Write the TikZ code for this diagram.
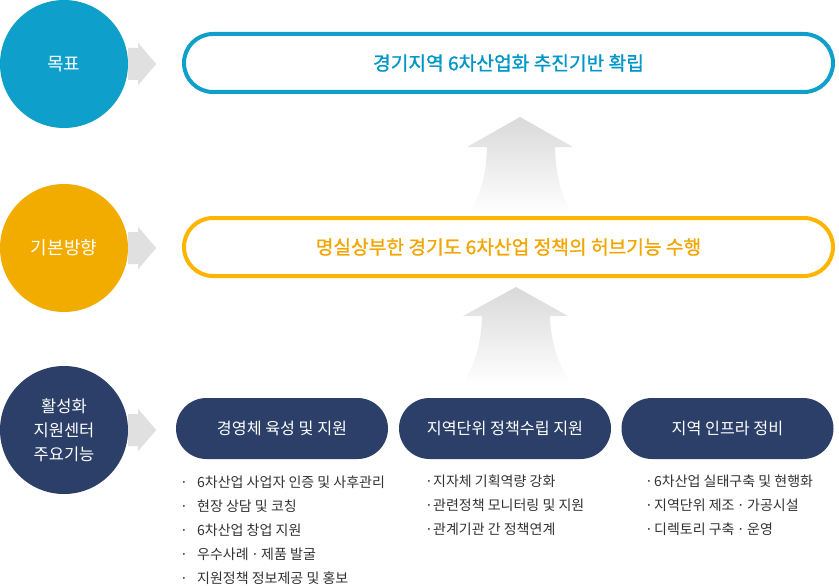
\documentclass[tikz,border=0pt]{standalone}
\usepackage{fontspec}
\setmainfont{Noto Sans CJK KR}
\newfontfamily\medfont[FakeBold=1.1]{Noto Sans CJK KR}
\usepackage{tikz}
\usetikzlibrary{positioning}
\usetikzlibrary{calc}

\definecolor{goalblue}{RGB}{14,160,202}
\definecolor{goaltext}{RGB}{0,150,200}
\definecolor{diryellow}{RGB}{242,172,0}
\definecolor{dirborder}{RGB}{255,180,0}
\definecolor{dirtext}{RGB}{242,165,0}
\definecolor{navy}{RGB}{43,63,104}
\definecolor{bodytext}{RGB}{50,50,50}

\begin{document}
\begin{tikzpicture}[x=1pt,y=-1pt]

\tikzset{level circle/.style={
		circle,
		fill=#1,
		minimum size=128pt,
		inner sep=0pt,
		align=center,
		text=white,
		font=\fontsize{18}{24}\selectfont
	},
	level box/.style={
		draw=#1,
		line width=4pt,
		rounded corners=29pt,
		minimum width=649pt,
		minimum height=58pt,
		inner sep=0pt,
		font=\medfont\fontsize{19.2}{22}\selectfont
	},
	task pill/.style={
		fill=navy,
		rounded corners=30.5pt,
		minimum width=212pt,
		minimum height=61pt,
		inner sep=0pt,
		text=white,
		font=\fontsize{16.2}{18}\selectfont
	},
	task item/.style={
		anchor=base west,
		inner sep=0pt,
		text=bodytext,
		font=\fontsize{14}{16}\selectfont
	},
	pointer/.style={fill=black!12},
	lift/.style={top color=black!15, bottom color=white}
}
\useasboundingbox (0,0) rectangle (839,586);

% circles
\node[level circle=goalblue] (goal) at (64,64) {목표};
\node[level circle=diryellow] (dir) at (64,248) {기본방향};
\node[level circle=navy, font=\fontsize{16.5}{24}\selectfont] (func) at (64,430) {활성화\\지원센터\\주요기능};

% boxes
\node[level box=goalblue, text=goaltext] (goalbox) at (508.5,63) {경기지역 6차산업화 추진기반 확립};
\node[level box=dirborder, text=dirtext] (dirbox) at (508.5,247) {명실상부한 경기도 6차산업 정책의 허브기능 수행};

\node[task pill] (mgmt) at (282,428.5) {경영체 육성 및 지원};
\node[task pill] (policy) at (505,428.5) {지역단위 정책수립 지원};
\node[task pill] (infra) at (727.5,428.5) {지역 인프라 정비};

% gray arrows
\foreach \c in {goal,dir,func}{
	\fill[pointer] ($(\c.east)+(0,-16)$) -- ++(10,0) -- ++(0,-5) -- ++(18,21)
		-- ++(-18,21) -- ++(0,-5) -- ++(-10,0) -- cycle;
}

% upward arrows
\shade[lift] (520,117) -- (573,147) -- (555,147)
	.. controls (556,185) and (565,200) .. (572,213) -- (470,213)
	.. controls (476,200) and (486,185) .. (487,147) -- (467,147) -- cycle;
\shade[lift] (516,287) -- (568,316) -- (550,316)
	.. controls (551,350) and (562,368) .. (570,384) -- (463,384)
	.. controls (472,368) and (481,350) .. (482,316) -- (463,316) -- cycle;

% lists
\foreach \t [count=\i] in {6차산업 사업자 인증 및 사후관리, 현장 상담 및 코칭, 6차산업 창업 지원, 우수사례\,·\,제품 발굴, 지원정책 정보제공 및 홍보}
	\node[task item] (mgmt-\i) at (180,463+24*\i) {\makebox[17pt][l]{·}\t};
\foreach \t [count=\i] in {지자체 기획역량 강화, 관련정책 모니터링 및 지원, 관계기관 간 정책연계}
	\node[task item] (policy-\i) at (425,462+24*\i) {\makebox[8pt][l]{·}\t};
\foreach \t [count=\i] in {6차산업 실태구축 및 현행화, 지역단위 제조\,·\,가공시설, 디렉토리 구축\,·\,운영}
	\node[task item] (infra-\i) at (645,462+24*\i) {\makebox[9pt][l]{·}\t};

\end{tikzpicture}
\end{document}
